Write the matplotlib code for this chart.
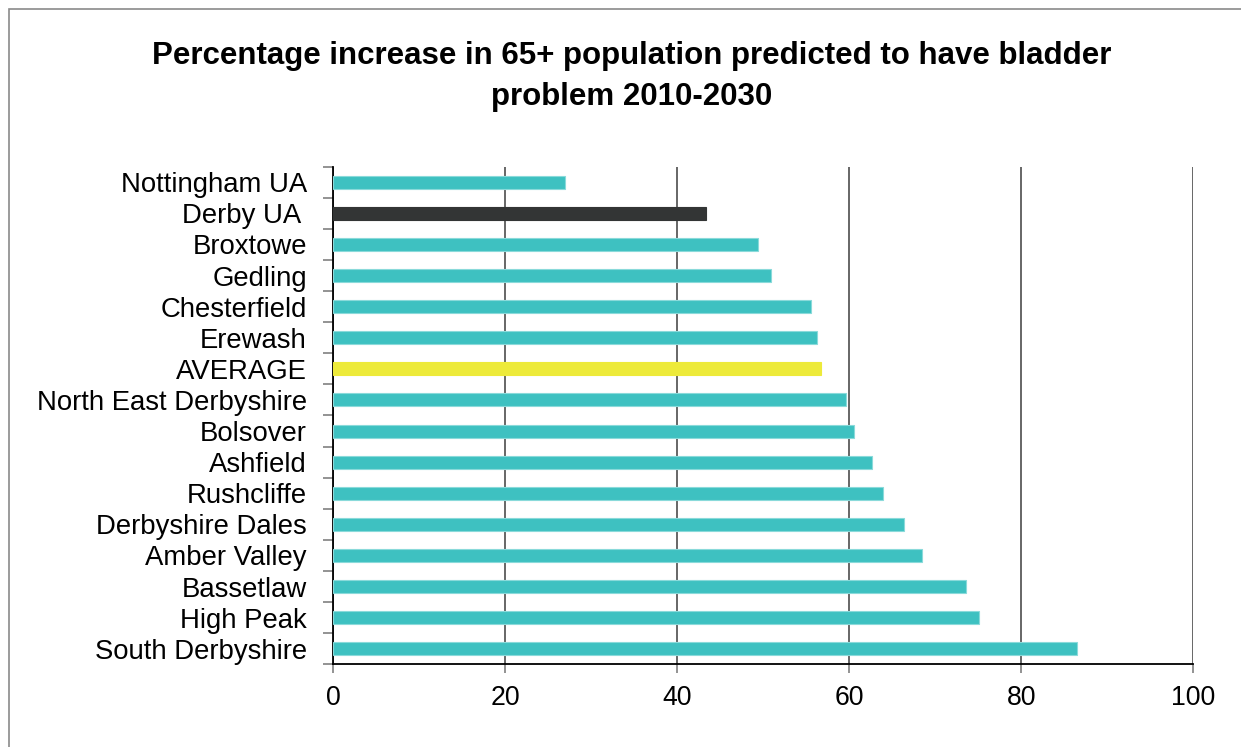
import matplotlib
matplotlib.use("Agg")
import matplotlib.pyplot as plt
from matplotlib.patches import Rectangle
from matplotlib.ticker import FixedLocator

# Districts, top to bottom
districts = [
    "Nottingham UA", "Derby UA ", "Broxtowe", "Gedling", "Chesterfield",
    "Erewash", "AVERAGE", "North East Derbyshire", "Bolsover", "Ashfield",
    "Rushcliffe", "Derbyshire Dales", "Amber Valley", "Bassetlaw",
    "High Peak", "South Derbyshire",
]
# Predicted % increase 2010-2030
increase = [
    26.9, 43.3, 49.4, 50.9, 55.6, 56.3, 56.7, 59.6, 60.5, 62.6,
    63.9, 66.4, 68.4, 73.6, 75.1, 86.5,
]
x_ticks = [0, 20, 40, 60, 80, 100]

TEAL = "#3EC1C1"
DARK = "#333535"
YELLOW = "#EDEA3A"
colors = []
for name in districts:
    if name.strip() == "Derby UA":
        colors.append(DARK)
    elif name == "AVERAGE":
        colors.append(YELLOW)
    else:
        colors.append(TEAL)
edges = ["#8ADADA" if c == TEAL else c for c in colors]

W, H = 1241, 747
fig = plt.figure(figsize=(W / 100, H / 100), dpi=100)
fig.patch.set_facecolor("white")

# Outer chart border (left and top edges visible)
fig.patches.append(Rectangle((8.5 / W, -0.1), 1.2, (H - 8.5) / H + 0.1,
                             transform=fig.transFigure, fill=False,
                             edgecolor="#8a8a8a", linewidth=1.2))

left, right = 333.3, 1193.3
top, bottom = 166.7, 664.3
ax = fig.add_axes([left / W, (H - bottom) / H, (right - left) / W, (bottom - top) / H])

pos = list(range(len(districts)))
ax.barh(pos, increase, height=0.42, color=colors, edgecolor=edges,
        linewidth=0.8, zorder=3)

ax.set_xlim(0, 100)
ax.set_ylim(len(districts) - 0.5, -0.5)

ax.set_xticks(x_ticks)
ax.set_xticklabels([str(t) for t in x_ticks])
ax.xaxis.grid(True, color="#5a5a5a", linewidth=1.3, zorder=1)
ax.set_axisbelow(True)

ax.set_yticks(pos)
ax.set_yticklabels(districts)
ax.yaxis.set_minor_locator(FixedLocator([i - 0.5 for i in range(len(districts) + 1)]))

for lbl in ax.get_yticklabels():
    lbl.set_fontfamily("Liberation Sans")
    lbl.set_fontsize(19.8)
for lbl in ax.get_xticklabels():
    lbl.set_fontfamily("Liberation Sans")
    lbl.set_fontsize(19.2)

ax.tick_params(axis="y", which="major", length=0, pad=19)
ax.tick_params(axis="y", which="minor", length=7.2, width=1.2, color="#808080")
ax.tick_params(axis="x", which="major", length=6.5, width=1.2, color="#808080",
               pad=8.5)

for s in ("top", "right"):
    ax.spines[s].set_visible(False)
for s in ("left", "bottom"):
    ax.spines[s].set_color("black")
    ax.spines[s].set_linewidth(1.3)

title_kw = dict(family="Liberation Sans", weight="bold", size=22.5,
                ha="center", va="baseline", color="black")
fig.text(632 / W, 1 - 64 / H,
         "Percentage increase in 65+ population predicted to have bladder",
         **title_kw)
fig.text(632 / W, 1 - 105 / H, "problem 2010-2030", **title_kw)

fig.savefig("out.png", dpi=100, facecolor="white")
